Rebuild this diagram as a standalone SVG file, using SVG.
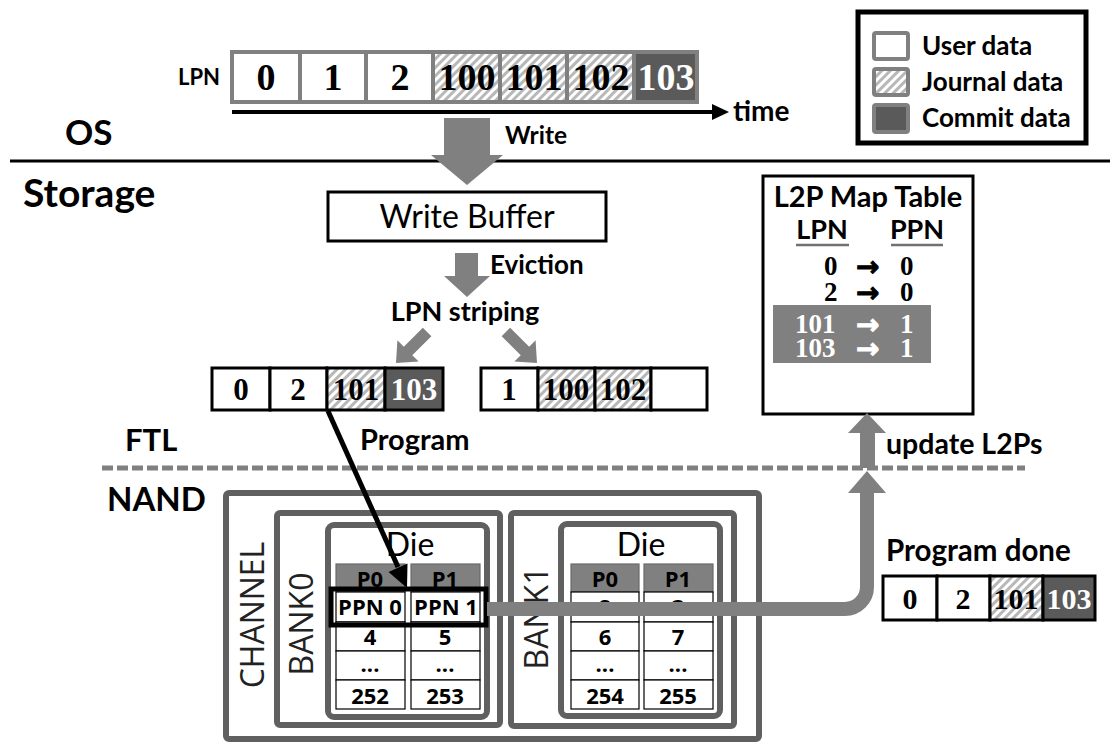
<svg xmlns="http://www.w3.org/2000/svg" width="1120" height="750" viewBox="0 0 1120 750">
<defs>
<pattern id="hatch" patternUnits="userSpaceOnUse" width="6" height="6" patternTransform="rotate(45)">
<rect width="6" height="6" fill="#ffffff"/>
<rect width="3" height="6" fill="#b8b8b8"/>
</pattern>
</defs>
<style>
.lab{font-family:Lato,"Open Sans",sans-serif;font-weight:bold;fill:#000}
.reg{font-family:Lato,"Open Sans",sans-serif;font-weight:normal;fill:#000}
.num{font-family:"Liberation Serif",serif;font-weight:bold;text-anchor:middle;fill:#000}
.wt{fill:#fff}
.sans{font-family:"Open Sans","Noto Sans",sans-serif;font-weight:bold;text-anchor:middle;fill:#000}
.rot{font-family:"Open Sans","Noto Sans",sans-serif;font-weight:normal;fill:#222;text-anchor:middle}
.map{font-family:"Liberation Serif",serif;font-weight:bold;font-size:27px}
.arr{font-family:"DejaVu Sans",sans-serif;font-size:28px;stroke-width:0.9}
.gc{stroke:#808080;stroke-width:4}
.bc{stroke:#000;stroke-width:3}
.white{fill:#fff}
.jour{fill:url(#hatch)}
.comm{fill:#5a5a5a}
.garrow{fill:#808080}
.box{fill:none;stroke:#606060;stroke-width:6}
.tc{fill:#fff;stroke:#000;stroke-width:1.2}
.th{fill:#808080;stroke:#6a6a6a;stroke-width:1.2}
</style>
<rect width="1120" height="750" fill="#fff"/>

<!-- legend -->
<g id="legend">
<rect x="858" y="12" width="228" height="131" fill="#fff" stroke="#000" stroke-width="5"/>
<rect x="874" y="33" width="34" height="26" rx="2" class="white gc" stroke-width="5"/>
<rect x="874" y="69" width="34" height="26" rx="2" class="jour gc" stroke-width="5"/>
<rect x="874" y="105" width="34" height="27" rx="2" class="comm gc" stroke-width="5"/>
<text x="922" y="55" class="lab" font-size="26">User data</text>
<text x="922" y="91" class="lab" font-size="26">Journal data</text>
<text x="922" y="127" class="lab" font-size="26">Commit data</text>
</g>

<!-- top LPN sequence -->
<g id="lpn-sequence">
<text x="178" y="85" class="lab" font-size="22">LPN</text>
<rect x="232" y="52" width="68" height="50" class="white gc"/>
<rect x="300" y="52" width="66" height="50" class="white gc"/>
<rect x="366" y="52" width="67" height="50" class="white gc"/>
<rect x="433" y="52" width="67" height="50" class="jour gc"/>
<rect x="500" y="52" width="67" height="50" class="jour gc"/>
<rect x="567" y="52" width="67" height="50" class="jour gc"/>
<rect x="634" y="52" width="63" height="50" class="comm gc"/>
<text x="266" y="90" class="num" font-size="38">0</text>
<text x="333" y="90" class="num" font-size="38">1</text>
<text x="400" y="90" class="num" font-size="38">2</text>
<text x="467" y="90" class="num" font-size="38">100</text>
<text x="534" y="90" class="num" font-size="38">101</text>
<text x="601" y="90" class="num" font-size="38">102</text>
<text x="666" y="90" class="num wt" font-size="38">103</text>
<line x1="232" y1="112" x2="715" y2="112" stroke="#000" stroke-width="4"/>
<polygon points="712,104 729,112 712,120" fill="#000"/>
<text x="733" y="121" class="lab" font-size="28">time</text>
</g>

<g id="layers">
<text x="65" y="145" class="lab" font-size="35">OS</text>
<line x1="10" y1="161" x2="1110" y2="161" stroke="#000" stroke-width="3"/>
<text x="23" y="207" class="lab" font-size="39">Storage</text>
<text x="125" y="451" class="lab" font-size="31">FTL</text>
<text x="107" y="511" class="lab" font-size="33">NAND</text>
<line x1="102" y1="468" x2="1025" y2="468" stroke="#808080" stroke-width="5" stroke-dasharray="11 4"/>
</g>

<g id="write-buffer">
<rect x="328" y="192" width="278" height="49" fill="#fff" stroke="#000" stroke-width="3"/>
<text x="467" y="228" class="reg" font-size="32" text-anchor="middle">Write Buffer</text>
</g>

<g id="buffer-left">
<rect x="212" y="368" width="58" height="42" class="white bc"/>
<rect x="270" y="368" width="57" height="42" class="white bc"/>
<rect x="327" y="368" width="58" height="42" class="jour bc"/>
<rect x="385" y="368" width="58" height="42" class="comm bc"/>
<text x="241" y="400" class="num" font-size="31">0</text>
<text x="298" y="400" class="num" font-size="31">2</text>
<text x="356" y="400" class="num" font-size="31">101</text>
<text x="414" y="400" class="num wt" font-size="31">103</text>
</g>

<g id="buffer-right">
<rect x="481" y="368" width="57" height="42" class="white bc"/>
<rect x="538" y="368" width="57" height="42" class="jour bc"/>
<rect x="595" y="368" width="56" height="42" class="jour bc"/>
<rect x="651" y="368" width="56" height="42" class="white bc"/>
<text x="509" y="400" class="num" font-size="31">1</text>
<text x="566" y="400" class="num" font-size="31">100</text>
<text x="623" y="400" class="num" font-size="31">102</text>
</g>

<g id="l2p-table">
<rect x="763" y="176" width="210" height="238" fill="#fff" stroke="#000" stroke-width="3"/>
<text x="868" y="207" class="lab" font-size="29" text-anchor="middle">L2P Map Table</text>
<text x="822" y="239" class="lab" font-size="27" text-anchor="middle">LPN</text>
<text x="917" y="239" class="lab" font-size="27" text-anchor="middle">PPN</text>
<line x1="796" y1="245" x2="849" y2="245" stroke="#707070" stroke-width="2.5"/>
<line x1="891" y1="245" x2="943" y2="245" stroke="#707070" stroke-width="2.5"/>
<text y="275" class="map" fill="#000"><tspan x="824">0</tspan><tspan x="856" y="276" class="arr" stroke="#000">→</tspan><tspan x="900" y="275">0</tspan></text>
<text y="301" class="map" fill="#000"><tspan x="824">2</tspan><tspan x="856" y="302" class="arr" stroke="#000">→</tspan><tspan x="900" y="301">0</tspan></text>
<rect x="773" y="305" width="158" height="58" fill="#808080"/>
<text y="333" class="map" fill="#fff"><tspan x="795">101</tspan><tspan x="856" y="334" class="arr" stroke="#fff">→</tspan><tspan x="900" y="333">1</tspan></text>
<text y="357" class="map" fill="#fff"><tspan x="795">103</tspan><tspan x="856" y="358" class="arr" stroke="#fff">→</tspan><tspan x="900" y="357">1</tspan></text>
</g>

<g id="channel">
<rect x="226" y="493" width="533" height="246" rx="3" class="box"/>
<text transform="translate(264,615) rotate(-90)" class="rot" font-size="32">CHANNEL</text>
</g>

<g id="bank0">
<rect x="277" y="513" width="223" height="212" rx="3" class="box"/>
<text transform="translate(313,624) rotate(-90)" class="rot" font-size="32">BANK0</text>
</g>

<g id="die0">
<rect x="328" y="525" width="159" height="192" rx="6" class="box"/>
<text x="410" y="556" class="reg" font-size="32" text-anchor="middle">Die</text>
<rect x="336" y="564" width="69" height="28" class="th"/>
<rect x="411" y="564" width="69" height="28" class="th"/>
<text x="370" y="587" class="sans wt" font-size="22">P0</text>
<text x="445" y="587" class="sans wt" font-size="22">P1</text>
<rect x="336" y="592" width="69" height="30" class="tc"/>
<rect x="411" y="592" width="69" height="30" class="tc"/>
<rect x="336" y="622" width="69" height="29" class="tc"/>
<rect x="411" y="622" width="69" height="29" class="tc"/>
<rect x="336" y="651" width="69" height="29" class="tc"/>
<rect x="411" y="651" width="69" height="29" class="tc"/>
<rect x="336" y="680" width="69" height="29" class="tc"/>
<rect x="411" y="680" width="69" height="29" class="tc"/>
<text x="370" y="615" class="sans" font-size="22">PPN 0</text>
<text x="446" y="615" class="sans" font-size="22">PPN 1</text>
<text x="370" y="645" class="sans" font-size="22">4</text>
<text x="445" y="645" class="sans" font-size="22">5</text>
<text x="370" y="672" class="sans" font-size="22">...</text>
<text x="445" y="672" class="sans" font-size="22">...</text>
<text x="370" y="704" class="sans" font-size="22">252</text>
<text x="445" y="704" class="sans" font-size="22">253</text>
<rect x="331" y="589" width="155" height="36" fill="none" stroke="#000" stroke-width="5"/>
</g>

<g id="bank1">
<rect x="511" y="513" width="223" height="213" rx="3" class="box"/>
<text transform="translate(548,618) rotate(-90)" class="rot" font-size="32">BANK1</text>
</g>

<g id="die1">
<rect x="561" y="524" width="159" height="192" rx="6" class="box"/>
<text x="641" y="556" class="reg" font-size="32" text-anchor="middle">Die</text>
<rect x="571" y="564" width="68" height="28" class="th"/>
<rect x="644" y="564" width="69" height="28" class="th"/>
<text x="605" y="587" class="sans wt" font-size="22">P0</text>
<text x="678" y="587" class="sans wt" font-size="22">P1</text>
<rect x="571" y="592" width="68" height="30" class="tc"/>
<rect x="644" y="592" width="69" height="30" class="tc"/>
<rect x="571" y="622" width="68" height="29" class="tc"/>
<rect x="644" y="622" width="69" height="29" class="tc"/>
<rect x="571" y="651" width="68" height="29" class="tc"/>
<rect x="644" y="651" width="69" height="29" class="tc"/>
<rect x="571" y="680" width="68" height="29" class="tc"/>
<rect x="644" y="680" width="69" height="29" class="tc"/>
<text x="605" y="615" class="sans" font-size="22">2</text>
<text x="678" y="615" class="sans" font-size="22">3</text>
<text x="605" y="645" class="sans" font-size="22">6</text>
<text x="678" y="645" class="sans" font-size="22">7</text>
<text x="605" y="672" class="sans" font-size="22">...</text>
<text x="678" y="672" class="sans" font-size="22">...</text>
<text x="605" y="704" class="sans" font-size="22">254</text>
<text x="678" y="704" class="sans" font-size="22">255</text>
</g>

<g id="program-done">
<text x="886" y="561" class="lab" font-size="29.5">Program done</text>
<rect x="883" y="576" width="54" height="44" class="white bc"/>
<rect x="937" y="576" width="53" height="44" class="white bc"/>
<rect x="990" y="576" width="53" height="44" class="jour bc"/>
<rect x="1043" y="576" width="52" height="44" class="comm bc"/>
<text x="910" y="609" class="num" font-size="30">0</text>
<text x="963" y="609" class="num" font-size="30">2</text>
<text x="1016" y="609" class="num" font-size="30">101</text>
<text x="1069" y="609" class="num wt" font-size="30">103</text>
</g>

<g id="connectors">
<polygon class="garrow" points="444,118 490,118 490,155 503,155 467,185 431,155 444,155"/>
<text x="505" y="144" class="lab" font-size="24.5">Write</text>
<polygon class="garrow" points="455,253 478,253 478,276 490,276 467,297 444,276 455,276"/>
<text x="490" y="274" class="lab" font-size="26">Eviction</text>
<text x="465" y="321" class="lab" font-size="27" text-anchor="middle">LPN striping</text>
<polygon class="garrow" transform="translate(396,363) rotate(45)" points="-6,-44 6,-44 6,-17 15,-17 0,0 -15,-17 -6,-17"/>
<polygon class="garrow" transform="translate(537,363) rotate(-45)" points="-6,-44 6,-44 6,-17 15,-17 0,0 -15,-17 -6,-17"/>
<line x1="328" y1="411" x2="398" y2="567" stroke="#000" stroke-width="5"/>
<polygon points="407,588 407.5,563.5 388.5,572" fill="#000"/>
<text x="360" y="450" class="lab" font-size="29">Program</text>
<path d="M487 609 H845 A22 22 0 0 0 867 587 V492" fill="none" stroke="#808080" stroke-width="14"/>
<polygon class="garrow" points="848,493 886,493 867,471"/>
<rect x="860" y="431" width="15" height="37" fill="#808080"/>
<polygon class="garrow" points="848,433 886,433 867,413"/>
<text x="886" y="454" class="lab" font-size="28.5">update L2Ps</text>
</g>
</svg>
